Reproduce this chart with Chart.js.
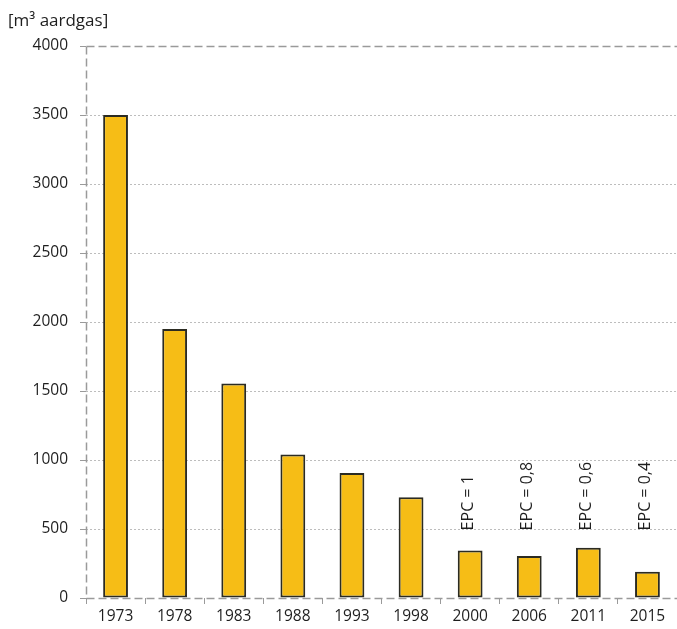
<!DOCTYPE html>
<html>
<head>
<meta charset="utf-8">
<script src="https://cdn.jsdelivr.net/npm/chart.js@4/dist/chart.umd.min.js"></script>
<style>
html,body{margin:0;padding:0;background:#fff;}
canvas{display:block;}
</style>
</head>
<body>
<canvas id="c" width="677" height="629"></canvas>
<script>
const categories = ['1973','1978','1983','1988','1993','1998','2000','2006','2011','2015'];
const gasUse = [3500, 1950, 1555, 1040, 905, 730, 345, 305, 365, 190];
const epcLabels = ['', '', '', '', '', '', 'EPC = 1', 'EPC = 0,8', 'EPC = 0,6', 'EPC = 0,4'];
const yTicks = [0, 500, 1000, 1500, 2000, 2500, 3000, 3500, 4000];
const unitLabel = '[m\u00B3 aardgas]';

const FONT = '"Open Sans", "Noto Sans", sans-serif';
const TXT = '#1e1e1e';
const AXIS = '#9a9a9a';

const extras = {
  id: 'extras',
  afterDatasetsDraw(chart) {
    const ctx = chart.ctx;
    const x = chart.scales.x, y = chart.scales.y;
    const a = chart.chartArea;
    ctx.save();
    ctx.strokeStyle = AXIS;
    ctx.lineWidth = 1.5;
    ctx.setLineDash([8, 4]);
    const yt = Math.round(y.getPixelForValue(4000)) + 0.5;
    const yb = Math.round(y.getPixelForValue(0)) + 0.5;
    const xl = Math.round(a.left) + 0.5;
    ctx.beginPath();
    ctx.moveTo(xl, yt); ctx.lineTo(a.right, yt);
    ctx.moveTo(xl, yt); ctx.lineTo(xl, yb);
    ctx.moveTo(xl, yb); ctx.lineTo(a.right, yb);
    ctx.stroke();
    ctx.restore();
  },
  afterDraw(chart) {
    const ctx = chart.ctx;
    const x = chart.scales.x, y = chart.scales.y;
    ctx.save();
    ctx.fillStyle = TXT;
    ctx.font = '17px ' + FONT;
    ctx.textAlign = 'left';
    ctx.textBaseline = 'alphabetic';
    ctx.fillText(unitLabel, 8, 26);
    ctx.font = '16px ' + FONT;
    const base = y.getPixelForValue(490);
    epcLabels.forEach((t, i) => {
      if (!t) return;
      const px = x.getPixelForValue(i);
      ctx.save();
      ctx.translate(px + 3, base);
      ctx.rotate(-Math.PI / 2);
      ctx.textAlign = 'left';
      ctx.textBaseline = 'alphabetic';
      ctx.fillText(t, 0, 0);
      ctx.restore();
    });
    ctx.restore();
  }
};

new Chart(document.getElementById('c'), {
  type: 'bar',
  data: {
    labels: categories,
    datasets: [{
      data: gasUse,
      backgroundColor: '#F6BD16',
      borderColor: '#2b2b22',
      borderWidth: 2,
      borderSkipped: false,
      barPercentage: 0.42,
      categoryPercentage: 1.0
    }]
  },
  options: {
    responsive: false,
    animation: false,
    devicePixelRatio: 1,
    layout: { padding: { top: 46, left: 0, right: 0, bottom: 0 } },
    plugins: { legend: { display: false }, tooltip: { enabled: false } },
    scales: {
      x: {
        offset: true,
        grid: {
          display: true,
          drawOnChartArea: false,
          drawTicks: true,
          tickLength: 6,
          color: AXIS,
          tickColor: AXIS,
          offset: true
        },
        border: { display: false },
        ticks: { color: TXT, font: { family: FONT, size: 15.5 }, padding: 3, maxRotation: 0 },
        afterFit: s => { s.height = 31; }
      },
      y: {
        min: 0,
        max: 4000,
        afterBuildTicks: s => { s.ticks = yTicks.map(v => ({ value: v })); },
        grid: {
          color: ctx => (ctx.tick && (ctx.tick.value === 0 || ctx.tick.value === 4000)) ? 'rgba(0,0,0,0)' : '#bdbdbd',
          lineWidth: 1,
          tickColor: AXIS,
          tickLength: 6,
          tickBorderDash: []
        },
        border: { display: false, dash: [2, 2] },
        ticks: {
          color: TXT,
          font: { family: FONT, size: 15.5 },
          padding: 12,
          callback: v => String(v)
        },
        afterFit: s => { s.width = 86; }
      }
    }
  },
  plugins: [extras]
});
</script>
</body>
</html>
